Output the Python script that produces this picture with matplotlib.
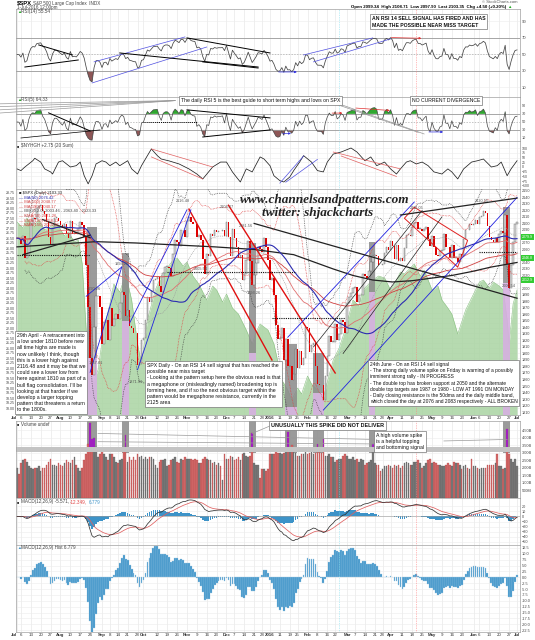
import numpy as np
import pandas as pd
import matplotlib
matplotlib.use("Agg")
import matplotlib.pyplot as plt
from matplotlib.patches import Polygon

plt.rcParams["font.family"] = ["Liberation Sans", "DejaVu Sans"]

# ---------------- data ----------------
holidays = ["2015-07-03", "2015-09-07", "2015-11-26", "2015-12-25", "2016-01-01",
            "2016-01-18", "2016-02-15", "2016-03-25", "2016-05-30"]
dates = pd.bdate_range("2015-07-01", "2016-07-01")
dates = dates[~dates.isin(pd.to_datetime(holidays))]

close_jul15 = [2077.4, 2076.8, 2068.8, 2081.3, 2046.7, 2051.3, 2076.6, 2099.6, 2109.0, 2107.4, 2124.3,
               2126.6, 2128.3, 2119.2, 2114.2, 2102.2, 2079.7, 2067.6, 2093.3, 2108.6, 2108.6, 2103.8]
close_aug15 = [2098.0, 2093.3, 2099.8, 2083.6, 2077.6, 2104.2, 2084.1, 2086.1, 2083.4, 2091.5, 2102.4,
               2096.9, 2079.6, 2035.7, 1970.9, 1893.2, 1867.6, 1940.5, 1987.7, 1988.9, 1972.2]
close_sep15 = [1913.9, 1948.9, 1951.1, 1921.2, 1969.4, 1942.0, 1952.3, 1961.1, 1953.0, 1978.1, 1995.3,
               1990.2, 1958.0, 1967.0, 1942.7, 1938.8, 1932.2, 1931.3, 1881.8, 1884.1, 1920.0]
close_oct15 = [1923.8, 1951.4, 1987.1, 1979.9, 1995.8, 2013.4, 2014.9, 2017.5, 2003.7, 1994.2, 2023.9,
               2033.1, 2033.7, 2030.8, 2018.9, 2052.5, 2075.2, 2071.2, 2065.9, 2090.4, 2089.4, 2079.4]
close_nov15 = [2104.1, 2109.8, 2102.3, 2099.9, 2099.2, 2078.6, 2081.7, 2075.0, 2046.0, 2023.0, 2053.2,
               2050.4, 2083.6, 2081.2, 2089.2, 2086.6, 2089.1, 2088.9, 2090.1, 2080.4]
close_dec15 = [2102.6, 2079.5, 2049.6, 2091.7, 2077.1, 2063.6, 2047.6, 2052.2, 2012.4, 2021.9, 2043.4,
               2073.1, 2041.9, 2005.6, 2021.2, 2039.0, 2064.3, 2061.0, 2056.5, 2078.4, 2063.4, 2043.9]
close_jan16 = [2012.7, 2016.7, 1990.3, 1943.1, 1922.0, 1923.7, 1938.7, 1890.3, 1921.8, 1880.3, 1881.3,
               1859.3, 1869.0, 1906.9, 1877.1, 1903.6, 1883.0, 1893.4, 1940.2]
close_feb16 = [1939.4, 1903.0, 1912.5, 1915.5, 1880.1, 1853.4, 1852.2, 1851.9, 1829.1, 1864.8, 1895.6,
               1926.8, 1917.8, 1917.8, 1945.5, 1921.3, 1929.8, 1951.7, 1948.1, 1932.2]
close_mar16 = [1978.4, 1986.5, 1993.4, 2000.0, 2001.8, 1979.3, 1989.3, 1989.6, 2022.2, 2019.6, 2015.9,
               2027.2, 2040.6, 2049.6, 2051.6, 2049.8, 2036.7, 2035.9, 2037.1, 2055.0, 2064.0, 2059.7]
close_apr16 = [2072.8, 2066.1, 2045.2, 2066.7, 2041.9, 2047.6, 2042.0, 2061.7, 2082.4, 2082.8, 2080.7,
               2094.3, 2100.8, 2102.4, 2091.5, 2091.6, 2087.8, 2091.7, 2095.2, 2075.8, 2065.3]
close_may16 = [2081.4, 2063.4, 2051.1, 2050.6, 2057.1, 2058.7, 2084.4, 2064.5, 2064.1, 2046.6, 2066.7,
               2047.2, 2047.6, 2040.0, 2052.3, 2048.0, 2076.1, 2090.5, 2090.1, 2099.1, 2097.0]
close_jun16 = [2099.3, 2105.3, 2099.1, 2109.4, 2112.1, 2119.1, 2115.5, 2096.1, 2079.1, 2075.3, 2071.5,
               2078.0, 2071.2, 2083.3, 2088.9, 2085.5, 2113.3, 2037.4, 2000.5, 2036.1, 2070.8, 2098.9]
close_jul16 = [2103.0]

vol_jul15 = [2.0, 1.6, 2.3, 2.5, 2.6, 2.4, 2.1, 2.0, 1.9, 2.0, 2.0, 2.1, 1.8, 2.0, 2.0, 2.2, 2.4, 2.6, 2.2, 2.2, 2.1, 2.3]
vol_aug15 = [2.2, 2.1, 2.3, 2.5, 2.4, 2.3, 2.5, 2.7, 2.2, 2.0, 1.8, 2.0, 2.5, 2.9, 3.6, 5.0, 3.9, 4.0, 3.4, 2.7, 2.9]
vol_sep15 = [3.1, 2.9, 2.7, 2.5, 2.9, 2.9, 2.7, 2.4, 2.3, 2.5, 2.6, 3.2, 4.2, 2.4, 2.7, 2.5, 2.7, 2.5, 2.9, 2.7, 2.8]
vol_oct15 = [2.6, 2.7, 2.6, 2.7, 2.7, 2.6, 2.2, 2.0, 2.4, 2.5, 2.5, 2.6, 2.1, 2.2, 2.5, 2.6, 2.7, 2.4, 2.3, 2.6, 2.5, 2.7]
vol_nov15 = [2.6, 2.6, 2.6, 2.5, 2.6, 2.5, 2.3, 2.3, 2.6, 2.7, 2.6, 2.5, 2.5, 2.3, 2.4, 2.2, 2.3, 2.1, 1.2, 2.9]
vol_dec15 = [2.6, 2.6, 2.8, 2.7, 2.5, 2.6, 2.7, 2.5, 2.9, 3.0, 2.8, 2.7, 2.8, 4.3, 2.3, 2.2, 2.2, 1.3, 1.9, 1.9, 1.8, 1.9]
vol_jan16 = [2.9, 2.9, 2.9, 3.2, 3.0, 3.0, 2.9, 3.0, 3.2, 4.4, 3.2, 3.5, 3.1, 3.0, 2.8, 2.8, 2.9, 2.9, 3.3]
vol_feb16 = [2.9, 3.0, 3.1, 2.9, 3.0, 3.6, 3.2, 3.0, 3.9, 2.8, 2.8, 2.9, 2.7, 2.7, 2.4, 2.5, 2.6, 2.6, 2.8, 2.9]
vol_mar16 = [2.8, 2.6, 2.6, 2.7, 2.5, 2.6, 2.4, 2.6, 2.5, 2.2, 2.3, 2.4, 2.5, 3.6, 2.3, 2.2, 2.2, 1.8, 1.9, 2.1, 2.1, 2.2]
vol_apr16 = [2.1, 2.0, 2.2, 2.1, 2.2, 2.0, 2.1, 2.3, 2.4, 2.3, 2.2, 2.2, 2.4, 2.4, 2.5, 2.3, 2.0, 2.1, 2.3, 2.5, 2.6]
vol_may16 = [2.3, 2.4, 2.3, 2.2, 2.2, 2.1, 2.1, 2.2, 2.3, 2.2, 2.1, 2.4, 2.3, 2.3, 2.2, 1.9, 2.1, 2.2, 2.0, 1.9, 2.6]
vol_jun16 = [2.1, 2.1, 2.0, 1.9, 2.0, 2.0, 2.0, 2.2, 2.2, 2.2, 2.2, 2.3, 2.9, 2.1, 2.1, 1.9, 2.0, 4.6, 2.9, 2.6, 2.4, 2.6]
vol_jul16 = [2.1]

# volume spike days (bar index) and the shaded columns drawn round them
spike_days = [37, 38, 39, 55, 119, 137, 152, 155, 180, 248]
spike_cols = [(35.5, 40.5, 2095, 1893), (53, 56.5, 2055, 1950), (117.5, 121, 2070, 1900),
              (135.5, 141.5, 1915, 1818), (150, 155.5, 1900, 1840), (178, 181, 2072, 1995),
              (246, 249.5, 2125, 2008)]

# green area behind price (left scale)
green_idx = [0, 3, 5, 8, 11, 14, 16, 19, 21, 24, 26, 29, 31, 33, 35, 37, 39, 41, 43, 45, 47, 49, 52, 55,
             58, 61, 63, 66, 70, 73, 76, 79, 81, 84, 86, 89, 92, 96, 99, 101, 104, 106, 109, 112, 116,
             119, 121, 123, 127, 130, 134, 137, 139, 142, 144, 147, 149, 152, 155, 157, 160, 163, 166,
             170, 173, 175, 178, 180, 183, 186, 189, 191, 194, 196, 199, 201, 204, 206, 210, 213, 215,
             218, 220, 223, 225, 227, 231, 234, 236, 239, 241, 244, 246, 248, 249, 251, 253]
green_val = [27.3, 27.0, 27.5, 27.1, 27.4, 26.9, 27.0, 27.2, 27.1, 26.6, 26.8, 26.3, 26.4, 25.2, 21.9, 18.7,
             19.4, 19.9, 21.3, 22.4, 23.2, 24.2, 23.8, 24.7, 23.4, 21.2, 20.2, 22.4, 23.9, 24.6, 25.0,
             25.4, 25.5, 25.1, 25.3, 24.6, 24.2, 23.4, 24.1, 23.9, 23.3, 23.7, 23.0, 22.7, 21.9, 21.2,
             21.8, 22.2, 21.9, 21.2, 19.4, 18.9, 18.4, 19.0, 18.7, 19.6, 19.2, 18.9, 18.5, 19.3, 20.4,
             21.0, 21.9, 23.4, 23.1, 23.9, 24.2, 24.4, 24.6, 24.5, 23.9, 24.2, 24.8, 24.7, 25.0, 25.2,
             24.6, 24.9, 23.9, 24.1, 23.4, 23.0, 22.7, 21.7, 22.3, 22.9, 23.7, 24.3, 24.4, 24.0, 24.3,
             24.1, 23.9, 22.4, 21.2, 23.2, 23.9]

# breadth oscillator, third panel
osc_idx = [0, 2, 4, 8, 9, 12, 14, 17, 18, 21, 23, 27, 30, 32, 34, 36, 38, 40, 43, 45, 47, 50, 52, 56, 58,
           61, 63, 66, 68, 71, 73, 77, 82, 87, 91, 94, 99, 103, 106, 109, 111, 113, 116, 119, 123, 125,
           128, 130, 133, 135, 138, 140, 143, 145, 149, 152, 155, 157, 160, 164, 169, 172, 176, 179,
           182, 186, 189, 192, 194, 197, 199, 202, 205, 208, 211, 215, 218, 220, 223, 226, 230, 233,
           236, 240, 243, 245, 248, 250, 253]
osc_val = [-10, -19, 0, 33, 46, 26, -10, -26, -37, 26, 33, 0, 7, 26, -46, -89, -46, 16, 33, 26, 7, 26, 7,
           33, -10, -37, 7, 60, 95, 60, 42, 32, 16, -10, -37, -63, 0, 26, 26, -26, -53, -79, -10, -26, 53,
           42, 7, -46, -72, -79, -53, -19, 26, 60, 26, -19, -26, 26, 68, 79, 100, 79, 33, 53, 7, 26, -10,
           -37, -10, 26, 33, 16, 26, 7, -26, -37, -10, -26, -63, -10, 26, 33, 42, 0, 7, 26, -46, -10, 33]

# long moving average
sma200_idx = [0, 20, 40, 60, 80, 100, 120, 140, 160, 170, 180, 190, 200, 210, 220, 230, 240, 253]
sma200_val = [2064, 2068, 2072, 2070, 2067, 2064, 2060, 2052, 2030, 2020, 2013, 2010, 2012, 2016, 2020,
              2026, 2033, 2040]

# current overlay values flagged on the price axis
flag_val = [2079, 2047, 2013]
flag_lab = ["2079.9", "2046.8", "2012.9"]

tick_idx = [0, 2, 7, 12, 17, 22, 27, 32, 37, 43, 47, 51, 56, 61, 64, 71, 76, 81, 86, 91, 96, 101, 106,
            110, 115, 120, 124, 128, 133, 138, 142, 147, 152, 157, 161, 167, 171, 176, 181, 185, 189,
            195, 200, 205, 210, 215, 220, 225, 231, 234, 239, 244, 249, 253]
tick_lab = ["Jul", "6", "13", "20", "27", "Aug", "10", "17", "24", "Sep", "8", "14", "21", "28", "Oct",
            "12", "19", "26", "Nov", "9", "16", "23", "Dec", "7", "14", "21", "28", "2016", "11", "19",
            "25", "Feb", "8", "16", "22", "Mar", "7", "14", "21", "28", "Apr", "11", "18", "25", "May",
            "9", "16", "23", "Jun", "6", "13", "20", "27", "Jul"]

close = np.array(close_jul15 + close_aug15 + close_sep15 + close_oct15 + close_nov15 + close_dec15 +
                 close_jan16 + close_feb16 + close_mar16 + close_apr16 + close_may16 + close_jun16 +
                 close_jul16)
volume = np.array(vol_jul15 + vol_aug15 + vol_sep15 + vol_oct15 + vol_nov15 + vol_dec15 + vol_jan16 +
                  vol_feb16 + vol_mar16 + vol_apr16 + vol_may16 + vol_jun16 + vol_jul16)
n = len(close)
x = np.arange(n)
opens = np.r_[close[0], close[:-1]]
down = close < opens

# ---------------- indicators ----------------
s = pd.Series(close)
sma50 = s.rolling(50, min_periods=1).mean()
ema50 = s.ewm(span=50, adjust=False).mean()
ema100 = s.ewm(span=100, adjust=False).mean()
mid = s.rolling(20, min_periods=5).mean()
sd = s.rolling(20, min_periods=5).std()


def rsi(values, period):
    d = np.diff(values, prepend=values[0])
    up = dn = np.mean(np.abs(np.diff(values[:period + 1]))) / 2
    out = []
    for v in d:
        up = (up * (period - 1) + max(v, 0)) / period
        dn = (dn * (period - 1) + max(-v, 0)) / period
        out.append(100 - 100 / (1 + up / dn))
    return np.array(out)


rsi14 = rsi(close, 14)
rsi5 = rsi(close, 5)
macd = s.ewm(span=12, adjust=False).mean() - s.ewm(span=26, adjust=False).mean()
signal = macd.ewm(span=9, adjust=False).mean()
hist = macd - signal

# ---------------- layout ----------------
W, H = 535, 640
fig = plt.figure(figsize=(W / 100, H / 100), dpi=100)
L, R = 16, 520


def panel(y0, y1):
    a = fig.add_axes([L / W, 1 - y1 / H, (R - L) / W, (y1 - y0) / H])
    a.set_xlim(-0.5, n + 0.5)
    a.set_xticks(tick_idx)
    a.tick_params(axis="x", length=0, labelbottom=False)
    a.grid(axis="x", color="#e4e4e4", lw=0.4)
    a.yaxis.tick_right()
    a.tick_params(axis="y", length=0, labelsize=3.0, pad=1.5, labelcolor="#444")
    for sp in a.spines.values():
        sp.set_color("#a0a0a0")
        sp.set_linewidth(0.5)
    a.set_axisbelow(True)
    return a


def vlines(a):
    a.axvline(202, color="#ff8080", ls=(0, (1, 1.5)), lw=0.5)
    a.axvline(163, color="#80e0f0", ls=(0, (1, 1.5)), lw=0.5)


def seg(a, x0, y0, x1, y1, c="k", lw=0.7, **kw):
    a.plot([x0, x1], [y0, y1], color=c, lw=lw, **kw)


def txt(px, py, s, **kw):
    kw.setdefault("fontsize", 3.3)
    return fig.text(px / W, 1 - py / H, s, **kw)


def date_labels(a):
    a.tick_params(axis="x", labelbottom=True, labelsize=3.2, pad=1, labelcolor="#333")
    a.set_xticklabels(tick_lab)
    labs = a.get_xticklabels()
    for lab in labs:
        if lab.get_text().isalpha() or lab.get_text() == "2016":
            lab.set_fontweight("bold")
    # "Jul" and "6" share the first few bars: keep them side by side
    labs[0].set_horizontalalignment("right")


def txt_run(px, py, parts, **kw):
    # place coloured pieces one after the other on a line
    r = fig.canvas.get_renderer()
    for s_, col in parts:
        t = txt(px, py, s_, color=col, **kw)
        px = t.get_window_extent(r).x1 + 1.2


# header
txt(17, 3, "$SPX", fontsize=4.2, weight="bold", va="center")
txt(33, 3, "S&P 500 Large Cap Index  INDX", color="#444", va="center")
txt(17, 7.5, "1-Jul-2016 12:00pm", color="#444", va="center")
txt(518, 2, "© StockCharts.com", color="#555", ha="right", va="center", fontsize=3.0)
txt(506, 7, "Open 2099.34  High 2108.71  Low 2097.90  Last 2103.35  Chg +4.50 (+0.20%)",
    ha="right", va="center", fontsize=3.2, weight="bold")
txt(507, 7, "▲", color="#2a2", va="center", fontsize=3.2)

# ---- RSI 14 ----
a1 = panel(9, 97)
a1.set_ylim(-1.5, 105)
a1.set_yticks([10, 30, 50, 70, 90])
for lv in (70, 30):
    a1.axhline(lv, color="#999", lw=0.6)
a1.axhline(50, color="#aaa", lw=0.5, ls=(0, (2, 2)))
a1.grid(axis="y", color="#ececec", lw=0.4)
vlines(a1)
a1.fill_between(x, rsi14, 30, where=rsi14 < 30, color="#8e5656", lw=0, interpolate=True)
a1.fill_between(x, rsi14, 70, where=rsi14 > 70, color="#33aa33", lw=0, interpolate=True)
a1.plot(x, rsi14, color="#444", lw=0.55)
seg(a1, 4, 34.8, 31, 43.3)
seg(a1, 11, 61.5, 28, 49.4)
seg(a1, 39, 41, 85, 71.2, c="#5050e0", lw=0.5)
seg(a1, 38, 15.5, 96, 59, c="#5050e0", lw=0.5)
seg(a1, 52, 51.8, 122, 34.8)
seg(a1, 86, 70, 128, 51.8)
seg(a1, 94, 41, 122, 33.6)
seg(a1, 145, 49.4, 180, 70, c="#5050e0", lw=0.5)
seg(a1, 150, 41, 189, 68.8, c="#5050e0", lw=0.5)
a1.annotate("", xy=(206, 69.5), xytext=(188, 70.5),
            arrowprops=dict(arrowstyle="-|>", color="#e03030", lw=0.5, mutation_scale=3))
a1.annotate("", xy=(143, 28.8), xytext=(131, 28.8),
            arrowprops=dict(arrowstyle="-|>", color="#3030e0", lw=0.5, mutation_scale=3))
txt(17, 12, "▲", color="#2a2", fontsize=3.0, va="center")
txt(21, 12, "RSI(14) 55.54", color="#444", va="center")

# ---- RSI 5 ----
a2 = panel(97, 141)
a2.set_ylim(2.5, 112)
a2.set_yticks([10, 30, 50, 70, 90])
a2.tick_params(axis="y", labelsize=2.7)
for lv in (70, 30):
    a2.axhline(lv, color="#999", lw=0.6)
a2.axhline(50, color="#aaa", lw=0.5, ls=(0, (2, 2)))
vlines(a2)
a2.fill_between(x, rsi5, 30, where=rsi5 < 30, color="#8e5656", lw=0, interpolate=True)
a2.fill_between(x, rsi5, 70, where=rsi5 > 70, color="#2fa82f", lw=0, interpolate=True)
a2.plot(x, rsi5, color="#444", lw=0.5)
seg(a2, 16, 72.5, 37, 27.5)
seg(a2, 2, 10, 42, 30, lw=0.5)
seg(a2, 64, 50, 91, 50, ls=(0, (1, 1)), lw=0.7)
seg(a2, 86, 80, 128, 60)
seg(a2, 94, 12.5, 128, 30)
for y0 in (95, 88, 80, 72):
    seg(a2, -9, y0, 80, 103, c="#999", lw=0.5, clip_on=False)
seg(a2, 160, 100, 206, 20, c="#999", lw=0.5)
seg(a2, 158, 100, 203, 24, c="#999", lw=0.5)
a2.annotate("", xy=(166, 72), xytext=(158, 72),
            arrowprops=dict(arrowstyle="-|>", color="#e03030", lw=0.5, mutation_scale=3))
a2.annotate("", xy=(190, 78), xytext=(170, 85),
            arrowprops=dict(arrowstyle="-|>", color="#e03030", lw=0.5, mutation_scale=3))
a2.annotate("", xy=(140, 22), xytext=(133, 20),
            arrowprops=dict(arrowstyle="-|>", color="#3030e0", lw=0.5, mutation_scale=3))
a2.annotate("", xy=(217, 25), xytext=(207, 25),
            arrowprops=dict(arrowstyle="-|>", color="#3030e0", lw=0.5, mutation_scale=3))
txt(17, 100, "▲", color="#2a2", fontsize=3.0, va="center")
txt(21, 100, "RSI(5) 64.33", color="#444", va="center")

# ---- oscillator ----
a3 = panel(141, 189)
a3.set_ylim(-116, 137)
a3.set_yticks([100, 75, 50, 25, 0, -25, -50, -75, -100])
a3.tick_params(axis="y", labelsize=2.5)
a3.grid(axis="y", color="#ececec", lw=0.4)
vlines(a3)
a3.plot(osc_idx, osc_val, color="#222", lw=0.55)
seg(a3, 68, 95, 99, 0, c="#e06060", lw=0.5)
seg(a3, 68, 53, 94, -63, c="#e06060", lw=0.5)
seg(a3, 160, 79, 194, -10, c="#e06060", lw=0.5)
seg(a3, 164, 58, 192, -50, c="#e06060", lw=0.5)
seg(a3, 133, -85, 145, 58, c="#5050e0", lw=0.5)
seg(a3, 136, -80, 152, 40, c="#5050e0", lw=0.5)
txt(17, 146, "■", color="#333", fontsize=2.6, va="center")
txt(21, 146, "$NYHGH +2.75 (20 Sum)", color="#444", va="center")

# ---- price ----
ag = panel(189, 415)
ag.yaxis.tick_left()
ag.set_ylim(17.65, 28.95)
ag.set_yticks(np.arange(18.0, 28.8, 0.25))
ag.set_yticklabels(["%.2f" % v for v in np.arange(18.0, 28.8, 0.25)])
ag.tick_params(axis="y", labelsize=2.6, pad=1)
date_labels(ag)
ag.grid(axis="y", color="#ececec", lw=0.4)
ag.fill_between(green_idx, green_val, 17.65, color="#a9d4a2", lw=0, alpha=0.85)
ag.plot(green_idx, green_val, color="#8cc284", lw=0.4)

ap = ag.twinx()
ap.set_xlim(-0.5, n + 0.5)
ap.set_ylim(1805.4, 2153)
price_ticks = np.arange(1810, 2151, 10)
ap.set_yticks(price_ticks)
# the green flags sit on top of the nearest tick labels
ap.set_yticklabels(["" if min(abs(t - f) for f in flag_val) < 6 else str(t) for t in price_ticks])
ap.tick_params(axis="y", length=0, labelsize=2.7, pad=1.5, labelcolor="#444")
for sp in ap.spines.values():
    sp.set_visible(False)
vlines(ap)
for x0, x1, top, bot in spike_cols:
    ap.fill_between([x0, x1], top, bot, color="#8a8a8a", lw=0, alpha=0.85)
    ap.fill_between([x0, x1], bot, 1805.4, color="#d6b0e0", lw=0, alpha=0.9)

ap.plot(x, mid + 2 * sd, color="#e04040", lw=0.5, ls=(0, (1, 1.2)))
ap.plot(x, mid - 2 * sd, color="#e04040", lw=0.5, ls=(0, (1, 1.2)))
ap.plot(x, mid + 3 * sd, color="#333", lw=0.5, ls=(0, (1, 1.5)))
ap.plot(x, mid - 3 * sd, color="#333", lw=0.5, ls=(0, (1, 1.5)))
ap.plot(x, mid, color="#999", lw=0.4, ls=(0, (2, 1.5)))
ap.plot(x, ema100, color="#d04040", lw=0.6)
ap.plot(x, ema50, color="#e07070", lw=0.6)
ap.plot(sma200_idx, sma200_val, color="#222", lw=0.9)
ap.plot(x, sma50, color="#2b2bb0", lw=0.8)

# candles
ap.bar(x[down], (opens - close)[down], bottom=close[down], width=0.8, color="#e00000", lw=0)
ap.bar(x[~down], np.maximum((close - opens)[~down], 0.8), bottom=opens[~down], width=0.8,
       color="#d8d8d8", edgecolor="#555", lw=0.25)

# trendlines
seg(ap, 87, 2122, 129, 1890, c="#e01010", lw=1.0)
seg(ap, 107, 2128, 161, 1870, c="#e01010", lw=1.0)
seg(ap, 37, 1871, 53, 2033, c="#2020e0", lw=0.6)
seg(ap, 35, 1988, 53, 2033, c="#2020e0", lw=0.6)
seg(ap, 57, 1947, 86, 2121, c="#2020e0", lw=0.6)
seg(ap, 61, 1875, 88, 2121, c="#2020e0", lw=0.6)
seg(ap, 137, 1925, 201, 2133, c="#2020e0", lw=0.6)
seg(ap, 155, 1813, 253, 2140, c="#2020e0", lw=0.6)
seg(ap, 194, 2113, 253, 2139, c="#222", lw=0.9)
seg(ap, 120, 2100, 253, 1985, c="#222", lw=0.9)
seg(ap, 13, 2106, 37, 2078, c="#222", lw=0.9)
seg(ap, 3, 2052, 37, 2082, c="#222", lw=0.9)
seg(ap, 150, 1910, 205, 2120, c="#222", lw=0.5)
seg(ap, 165, 1900, 215, 2110, c="#222", lw=0.5)
ap.add_patch(Polygon([(196, 2108), (201, 2125), (228, 2074), (223, 2033)], closed=True,
                     fill=False, edgecolor="#e02020", lw=0.7))
seg(ap, 0, 2052, 37, 2052, c="#111", lw=0.8, ls=(0, (1, 1)))
seg(ap, 76, 2025, 141, 2025, c="#111", lw=0.8, ls=(0, (1, 1)))
seg(ap, 129, 1955, 166, 1955, c="#111", lw=0.8, ls=(0, (1, 1)))
seg(ap, 234, 2056, 253, 2056, c="#111", lw=0.8, ls=(0, (1, 1)))

for lab, xi, yv in [("2116.48", 84, 2132), ("2104.27", 106, 2123), ("2081.56", 116, 2093),
                    ("1993.26", 120, 1990), ("2005.54", 93, 2027), ("1990.26", 39, 1996),
                    ("1993.26", 53, 2035), ("1867.61", 40, 1882), ("1871.91", 60, 1853),
                    ("2111.05", 202, 2121), ("2120.55", 235, 2131), ("2000.54", 249, 2000)]:
    ap.text(xi, yv, lab, fontsize=2.8, color="#555", ha="center", va="bottom")

for yv, lab in zip(flag_val, flag_lab):
    ap.text(1.004, yv, lab, transform=ap.get_yaxis_transform(), fontsize=2.6, color="white",
            va="center", ha="left", bbox=dict(fc="#33cc33", ec="none", pad=0.5))

# price legend
legend = [("■ $SPX (Daily) 2103.33", "#222"), ("— MA(50) 2076.42", "#2b2bb0"),
          ("— MA(100) 2048.77", "#d04040"), ("— MA(150) 2040.17", "#d04040"),
          ("— BB(20,2.0) 2003.46 - 2063.40 - 2123.33", "#444"), ("— EMA(50) 2071.26", "#d04040"),
          ("— EMA(100) 2058.12", "#d04040"), ("— EMA(150) 2054.28", "#d04040")]
for i, (lab, col) in enumerate(legend):
    txt(19, 193 + i * 4.6, lab, color=col, fontsize=3.0, va="center")

# watermark
txt(240, 203, "www.channelsandpatterns.com", family="Liberation Serif", style="italic",
    weight="bold", fontsize=9.5, color="#222", va="baseline")
txt(262, 216, "twitter: shjackcharts", family="Liberation Serif", style="italic",
    weight="bold", fontsize=9.5, color="#222", va="baseline")

# ---- volume ----
av = panel(421, 498)
av.set_ylim(0, 5.13)
av.set_yticks([0.5, 1.0, 1.5, 2.0, 2.5, 3.0, 3.5, 4.0, 4.5])
av.set_yticklabels(["500M", "1.00B", "1.50B", "2.00B", "2.50B", "3.00B", "3.50B", "4.00B", "4.50B"])
av.tick_params(axis="y", labelsize=2.8)
av.grid(axis="y", color="#ececec", lw=0.4)
vlines(av)
for x0, x1, top, bot in spike_cols:
    av.fill_between([x0, x1], 3.0, 5.13, color="#8a8a8a", lw=0, alpha=0.85)
vdown = np.r_[False, close[1:] < close[:-1]]
av.bar(x[vdown], volume[vdown], width=0.8, color="#d46a6a", edgecolor="#b04040", lw=0.2)
av.bar(x[~vdown], volume[~vdown], width=0.8, color="#7a7a7a", edgecolor="#555", lw=0.2)
av.bar(spike_days, volume[spike_days] - 3.3, bottom=3.3, width=0.8, color="#a020c0", lw=0)
av.axhspan(3.07, 3.4, color="#c4c4c4", lw=0)
seg(av, 182, 3.9, 41, 4.3, c="#999", lw=0.5)
seg(av, 182, 3.6, 41, 3.75, c="#999", lw=0.5)
seg(av, 216, 3.8, 248, 3.9, c="#999", lw=0.5)
seg(av, 128, 4.8, 119, 4.3, c="#999", lw=0.5)
txt(17, 424, "■", color="#333", fontsize=2.6, va="center")
txt(21, 424, "Volume undef", color="#444", va="center")

# ---- MACD ----
am = panel(498, 545)
am.set_ylim(-56, 36)
am.set_yticks([20, 10, 0, -10, -20, -30, -40, -50])
am.tick_params(axis="y", labelsize=2.7)
am.grid(axis="y", color="#ececec", lw=0.4)
vlines(am)
am.axhline(0, color="#999", lw=0.4)
am.bar(x, hist, width=0.8, color="#3d93c8", lw=0)
am.plot(x, signal, color="#e06060", lw=0.55)
am.plot(x, macd, color="#333", lw=0.55)
txt(17, 502, "■", color="#333", fontsize=2.6, va="center")
txt_run(21, 502, [("MACD(12,26,9) -5.571,", "#444"), ("-12.349,", "#e04040"), ("6.779", "#3d93c8")],
        va="center")

# ---- histogram ----
ah = panel(545, 632)
ah.set_ylim(-23.3, 13.75)
ah.set_yticks(np.arange(-22.5, 12.6, 2.5))
ah.set_yticklabels(["%.1f" % v for v in np.arange(-22.5, 12.6, 2.5)])
ah.tick_params(axis="y", labelsize=2.8)
ah.grid(axis="y", color="#ececec", lw=0.4)
vlines(ah)
ah.bar(x, hist, width=0.9, color="#3d93c8", edgecolor="#a8cde6", lw=0.25)
date_labels(ah)
txt(17, 548, "▲", color="#3d93c8", fontsize=2.8, va="center")
txt(21, 548, "MACD(12,26,9) Hist 6.779", color="#444", va="center")

# ---- text boxes ----
box = dict(facecolor="white", edgecolor="#777", lw=0.5, boxstyle="square,pad=0.35")
tb = dict(fontsize=3.7, color="#111", va="top", ha="left", linespacing=1.3, bbox=box)
txt(372, 16, "AN RSI 14 SELL SIGNAL HAS FIRED AND HAS\nMADE THE POSSIBLE NEAR MISS TARGET",
    fontsize=3.7, weight="bold", color="#111", va="top", ha="left", linespacing=1.4, bbox=box)
txt(181, 98, "The daily RSI 5 is the best guide to short term highs and lows on SPX", **tb)
txt(412, 98, "NO CURRENT DIVERGENCE", **tb)
txt(17, 333, "29th April - A retracement into\na low under 1810 before new\nall time highs are made is\n"
    "now unlikely I think, though\nthis is a lower high against\n2116.48 and it may be that we\n"
    "could see a lower low from\nhere against 1810 as part of a\nbull flag consolidation. I'll be\n"
    "looking at that harder if we\ndevelop a larger topping\npattern that threatens a return\n"
    "to the 1800s.", **tb)
txt(147, 363, "SPX Daily - On an RSI 14 sell signal that has reached the\npossible near miss target\n"
    "- Looking at the pattern setup here the obvious read is that\n"
    "a megaphone or (misleadingly named) broadening top is\n"
    "forming here, and if so the next obvious target within the\n"
    "pattern would be megaphone resistance, currently in the\n2125 area", **tb)
txt(370, 362, "24th June - On an RSI 14 sell signal\n"
    "- The strong daily volume spike on Friday is warning of a possibly\n"
    "imminent strong rally - IN PROGRESS\n"
    "- The double top has broken support at 2050 and the alternate\n"
    "double top targets are 1987 or 1980 - LOW AT 1991 ON MONDAY\n"
    "- Daily closing resistance is the 50dma and the daily middle band,\n"
    "which closed the day at 2076 and 2083 respectively - ALL BROKEN",
    **dict(tb, fontsize=3.55))
txt(271, 423, "UNUSUALLY THIS SPIKE DID NOT DELIVER", fontsize=3.9, weight="bold", color="#111",
    va="top", ha="left", bbox=box)
txt(376, 433, "A high volume spike\nis a helpful topping\nand bottoming signal", **tb)

fig.savefig("out.png", dpi=100)
